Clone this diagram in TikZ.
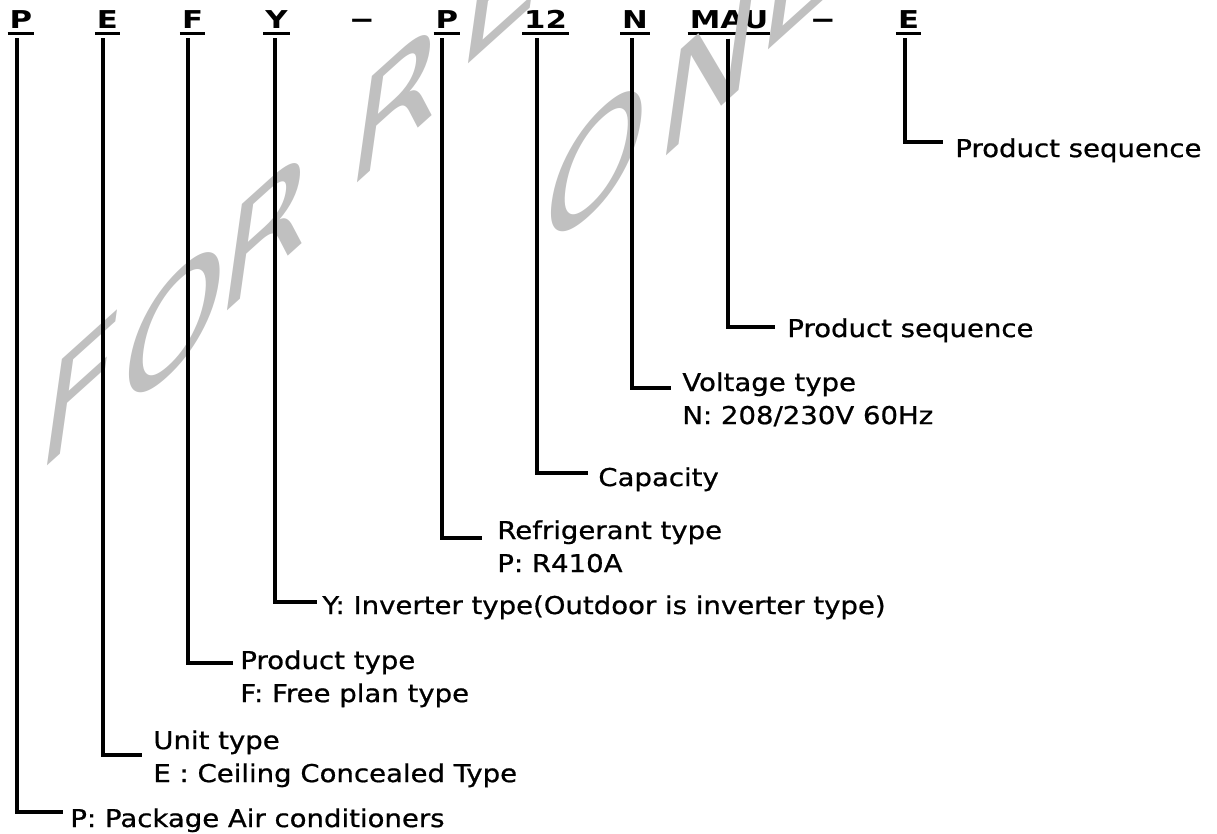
\documentclass[tikz,border=0pt]{standalone}
\usepackage{fontspec}
\setmainfont{DejaVu Sans}[FakeStretch=1.12, FakeBold=0.8]
\newfontfamily\codefont{DejaVu Sans}[FakeStretch=1.25]
\newfontfamily\dashfont{DejaVu Sans}[FakeStretch=2]
\newfontfamily\wmfont{DejaVu Sans}[FakeStretch=1.2]
\usetikzlibrary{calc}
\definecolor{WaterGray}{RGB}{192,192,192}
\tikzset{
  code/.style={font=\codefont\bfseries\fontsize{14}{16}\selectfont,
    anchor=base, inner xsep=1pt, inner ysep=2.3pt},
  dashsym/.style={font=\dashfont\bfseries\fontsize{14}{16}\selectfont,
    anchor=base, inner sep=0pt},
  uline/.style={line width=1.8pt},
  lead/.style={line width=1.8pt},
  desc/.style={font=\fontsize{14}{18.8}\selectfont, anchor=north west,
    inner sep=0pt, align=left},
  wmark/.style={text=WaterGray, font=\wmfont\fontsize{84}{84}\selectfont,
    inner sep=0pt, cm={0.743,0.669,0.139,0.990,(0,0)}}
}

\begin{document}
\begin{tikzpicture}[x=0.02cm, y=-0.02cm]
  \useasboundingbox (0,0) rectangle (1217,834);

  \node[code] (cP) at (21,29) {P};
  \node[code] (cE) at (107.5,29) {E};
  \node[code] (cF) at (192.5,29) {F};
  \node[code] (cY) at (276.5,29) {Y};
  \node[dashsym] (dash1) at (362,28) {\textendash};
  \node[code] (cP2) at (447,29) {P};
  \node[code] (c12) at (545.5,29) {12};
  \node[code] (cN) at (635,29) {N};
  \node[code] (cMAU) at (729,29) {MAU};
  \node[dashsym] (dash2) at (823,28) {\textendash};
  \node[code] (cE2) at (908.5,29) {E};
  \draw[uline] (cP.south west) -- (cP.south east);
  \draw[uline] (cE.south west) -- (cE.south east);
  \draw[uline] (cF.south west) -- (cF.south east);
  \draw[uline] (cY.south west) -- (cY.south east);
  \draw[uline] (cP2.south west) -- (cP2.south east);
  \draw[uline] (c12.south west) -- (c12.south east);
  \draw[uline] (cN.south west) -- (cN.south east);
  \draw[uline] (cMAU.south west) -- (cMAU.south east);
  \draw[uline] (cE2.south west) -- (cE2.south east);

  \begin{scope}
    \clip (0,0) rectangle (1217,834);
    \node[wmark] (wF) at (80,390) {F};
    \node[wmark] (wO) at (175,323) {O};
    \node[wmark] (wR) at (268,228) {R};
    \node[wmark] (wR2) at (398,100) {R};
    \node[wmark] (wE) at (505,-15) {E};
    \node[wmark] (wO2) at (597,162) {O};
    \node[wmark] (wN) at (710,70) {N};
    \node[wmark] (wL) at (800,-25) {L};
  \end{scope}

  \node[desc] (lSeq2) at (955,138) {Product sequence};
  \node[desc] (lSeq1) at (787,318) {Product sequence};
  \node[desc] (lVolt) at (682,372) {Voltage type\\N: 208/230V 60Hz};
  \node[desc] (lCap) at (598,467) {Capacity};
  \node[desc] (lRef) at (497,520) {Refrigerant type\\P: R410A};
  \node[desc] (lInv) at (322,595) {Y: Inverter type(Outdoor is inverter type)};
  \node[desc] (lProd) at (240,650) {Product type\\F: Free plan type};
  \node[desc] (lUnit) at (153,730) {Unit type\\E : Ceiling Concealed Type};
  \node[desc] (lPkg) at (70,808) {P: Package Air conditioners};

  \draw[lead] ($(cE2.south)+(-3.5,5)$) |- ($(lSeq2.north west)+(-12,4)$);
  \draw[lead] ($(cMAU.south)+(-1,5)$) |- ($(lSeq1.north west)+(-12,9)$);
  \draw[lead] ($(cN.south)+(-3,5)$) |- ($(lVolt.north west)+(-11,16)$);
  \draw[lead] ($(c12.south)+(-8.5,5)$) |- ($(lCap.north west)+(-10,6)$);
  \draw[lead] ($(cP2.south)+(-5,5)$) |- ($(lRef.north west)+(-15,18)$);
  \draw[lead] ($(cY.south)+(-1.5,5)$) |- ($(lInv.north west)+(-5,7)$);
  \draw[lead] ($(cF.south)+(-4.5,5)$) |- ($(lProd.north west)+(-7,13)$);
  \draw[lead] ($(cE.south)+(-4.5,5)$) |- ($(lUnit.north west)+(-11,25)$);
  \draw[lead] ($(cP.south)+(-4,5)$) |- ($(lPkg.north west)+(-7,4)$);
\end{tikzpicture}
\end{document}
